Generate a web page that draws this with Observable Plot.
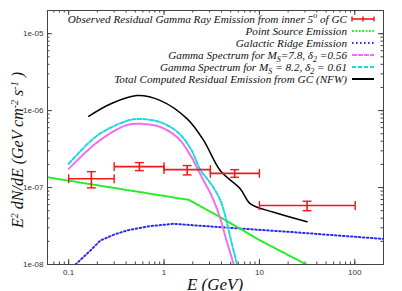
<!DOCTYPE html>
<html><head><meta charset="utf-8">
<script src="https://cdn.jsdelivr.net/npm/d3@7"></script>
<script src="https://cdn.jsdelivr.net/npm/@observablehq/plot@0.6"></script>
<style>body{margin:0;background:#fff} svg{display:block}</style>
</head><body><div id="chart"></div>
<script>
// Observed residual emission (with energy bins and flux errors)
const obsE   = [0.173, 0.552, 1.75, 5.5, 31.6];
const obsELo = [0.1, 0.3, 1.0, 3.06, 10];
const obsEHi = [0.3, 1.0, 3.06, 10, 101];
const obsF   = [1.30e-7, 1.87e-7, 1.71e-7, 1.53e-7, 5.84e-8];
const obsFLo = [0.99e-7, 1.66e-7, 1.46e-7, 1.36e-7, 5.0e-8];
const obsFHi = [1.61e-7, 2.11e-7, 1.93e-7, 1.71e-7, 6.64e-8];

// Point source emission
const psE = [0.06, 0.297, 1.82, 3.9, 10.2, 31.1];
const psF = [1.36e-7, 9.9e-8, 6.92e-8, 4.11e-8, 2.05e-8, 1.0e-8];

// Galactic ridge emission
const grE = [0.118, 0.169, 0.215, 0.3, 0.41, 0.7, 1.26, 3.06, 22.9, 200];
const grF = [1.0e-8, 1.52e-8, 2.05e-8, 2.45e-8, 2.77e-8, 3.15e-8, 3.38e-8, 3.12e-8, 2.63e-8, 2.15e-8];

// Gamma spectrum Ms=7.8, d2=0.56
const g1E = [0.1, 0.199, 0.394, 0.55, 0.92, 1.4, 1.9, 2.3, 2.6, 3.08, 3.74, 4.5, 5.38];
const g1F = [1.75e-7, 3.87e-7, 6.4e-7, 6.75e-7, 6.1e-7, 4.4e-7, 2.6e-7, 1.65e-7, 1.23e-7, 8.3e-8, 4.6e-8, 2.1e-8, 1.0e-8];

// Gamma spectrum Ms=8.2, d2=0.61
const g2E = [0.1, 0.199, 0.394, 0.53, 0.92, 1.4, 1.9, 2.4, 2.9, 3.3, 3.9, 4.4, 4.97, 5.84];
const g2F = [2.03e-7, 4.73e-7, 7.25e-7, 7.8e-7, 7.05e-7, 5.2e-7, 3.2e-7, 1.71e-7, 1.25e-7, 1.0e-7, 6.8e-8, 4.2e-8, 2.2e-8, 1.0e-8];

// Total computed residual emission (NFW)
const totE = [0.162, 0.274, 0.522, 0.92, 1.75, 2.61, 3.9, 6.32, 8.05, 14.1, 31.6];
const totF = [8.43e-7, 1.22e-6, 1.57e-6, 1.35e-6, 7.8e-7, 4.07e-7, 1.65e-7, 9.6e-8, 6.14e-8, 4.78e-8, 3.6e-8];

// Axes
const xTicks = [0.1, 1, 10, 100];
const xTickLabels = ["0.1", "1", "10", "100"];
const yTicks = [1e-8, 1e-7, 1e-6, 1e-5];
const yTickLabels = ["1e-08", "1e-07", "1e-06", "1e-05"];
const xDomain = [0.06, 200];
const yDomain = [1e-8, 2e-5];

const legendLabels = [
  [["Observed Residual Gamma Ray Emission from inner 5"], ["o", "sup"], [" of GC"]],
  [["Point Source Emission"]],
  [["Galactic Ridge Emission"]],
  [["Gamma Spectrum for M"], ["S", "sub"], ["=7.8, δ"], ["2", "sub"], [" =0.56"]],
  [["Gamma Spectrum for M"], ["S", "sub"], [" = 8.2, δ"], ["2", "sub"], [" = 0.61"]],
  [["Total Computed Residual Emission from GC (NFW)"]]
];

const zip = (E, F) => E.map((e, i) => ({e, f: F[i]}));
const obs = obsE.map((e, i) => ({e, lo: obsELo[i], hi: obsEHi[i], f: obsF[i], flo: obsFLo[i], fhi: obsFHi[i]}));
const xTickData = xTicks.map((v, i) => ({v, label: xTickLabels[i]}));
const yTickData = yTicks.map((v, i) => ({v, label: yTickLabels[i]}));

const W = 402, H = 291, mL = 47, mR = 19, mT = 10, mB = 27;
const pH = H - mT - mB, pW = W - mL - mR;

function minorTicks(lo, hi) {
  const out = [];
  for (let p = -9; p <= 3; p++) for (let k = 1; k <= 9; k++) {
    const v = k * Math.pow(10, p);
    if (v >= lo * 0.999 && v <= hi * 1.001) out.push(v);
  }
  return out;
}
const xMinor = minorTicks(...xDomain);
const yMinor = minorTicks(...yDomain);

const red = "#f01818", green = "#22ee22", blue = "#2a2aff", mag = "#ee70ee", cyan = "#1ed8e0";
const greenDash = "1.8,1.6", blueDash = "1.5,2.5", magDash = "5,1", cyanDash = "4,2";

const hCap = {draw(ctx, size) { const r = Math.sqrt(size); ctx.moveTo(-r, 0); ctx.lineTo(r, 0); }};
const vCap = {draw(ctx, size) { const r = Math.sqrt(size); ctx.moveTo(0, -r); ctx.lineTo(0, r); }};

const svg = Plot.plot({
  width: W, height: H,
  marginLeft: mL, marginRight: mR, marginTop: mT, marginBottom: mB,
  style: {fontFamily: "Liberation Sans, Arial, sans-serif", fontSize: "8px", color: "#333", background: "#fff"},
  x: {type: "log", domain: xDomain, label: null, axis: null},
  y: {type: "log", domain: yDomain, label: null, axis: null},
  marks: [
    // ticks (inside, mirrored)
    Plot.tickX(xMinor, {x: d => d, insetTop: pH - 2.5, stroke: "#444"}),
    Plot.tickX(xMinor, {x: d => d, insetBottom: pH - 2.5, stroke: "#444"}),
    Plot.tickX(xTicks, {x: d => d, insetTop: pH - 5, stroke: "#444"}),
    Plot.tickX(xTicks, {x: d => d, insetBottom: pH - 5, stroke: "#444"}),
    Plot.tickY(yMinor, {y: d => d, insetRight: pW - 2.5, stroke: "#444"}),
    Plot.tickY(yMinor, {y: d => d, insetLeft: pW - 2.5, stroke: "#444"}),
    Plot.tickY(yTicks, {y: d => d, insetRight: pW - 5, stroke: "#444"}),
    Plot.tickY(yTicks, {y: d => d, insetLeft: pW - 5, stroke: "#444"}),
    // tick labels
    Plot.text(xTickData, {x: "v", text: "label", frameAnchor: "bottom", dy: 10, fill: "#333", fontSize: 8}),
    Plot.text(yTickData, {y: "v", text: "label", frameAnchor: "left", dx: -4, textAnchor: "end", fill: "#333", fontSize: 8}),
    // curves
    Plot.line(zip(grE, grF), {x: "e", y: "f", stroke: blue, strokeWidth: 2, strokeDasharray: blueDash, clip: true}),
    Plot.line(zip(psE, psF), {x: "e", y: "f", stroke: green, strokeWidth: 2, strokeDasharray: greenDash, clip: true}),
    Plot.line(zip(g1E, g1F), {x: "e", y: "f", stroke: mag, strokeWidth: 2, strokeDasharray: magDash, curve: "catmull-rom", clip: true}),
    Plot.line(zip(g2E, g2F), {x: "e", y: "f", stroke: cyan, strokeWidth: 2, strokeDasharray: cyanDash, curve: "catmull-rom", clip: true}),
    Plot.line(zip(totE, totF), {x: "e", y: "f", stroke: "#000", strokeWidth: 1.5, curve: "catmull-rom", clip: true}),
    // observed data with error bars
    Plot.link(obs, {x1: "lo", x2: "hi", y1: "f", y2: "f", stroke: red, strokeWidth: 1.6}),
    Plot.link(obs, {x1: "e", x2: "e", y1: "flo", y2: "fhi", stroke: red, strokeWidth: 1.6}),
    Plot.dot(obs, {x: "lo", y: "f", symbol: vCap, r: 2.5, stroke: red, strokeWidth: 1.4}),
    Plot.dot(obs, {x: "hi", y: "f", symbol: vCap, r: 2.5, stroke: red, strokeWidth: 1.4}),
    Plot.dot(obs, {x: "e", y: "flo", symbol: hCap, r: 2.5, stroke: red, strokeWidth: 1.4}),
    Plot.dot(obs, {x: "e", y: "fhi", symbol: hCap, r: 2.5, stroke: red, strokeWidth: 1.4}),
    Plot.frame({stroke: "#444", strokeWidth: 1})
  ]
});

const s = d3.select(svg);
function rich(textSel, parts, small) {
  let shift = 0;
  parts.forEach(([t, kind]) => {
    const ts = textSel.append("tspan").text(t);
    let target = kind === "sub" ? 3 : kind === "sup" ? -5 : 0;
    if (target !== shift) ts.attr("dy", target - shift);
    shift = target;
    if (kind) ts.attr("font-size", small);
  });
}

// legend
const lg = s.append("g").attr("font-family", "Liberation Serif, Times New Roman, serif")
  .attr("font-style", "italic").attr("font-size", 11.2).attr("fill", "#111");
const legStyles = [
  {stroke: red, dash: null, w: 1.6},
  {stroke: green, dash: greenDash, w: 2},
  {stroke: blue, dash: blueDash, w: 2},
  {stroke: mag, dash: magDash, w: 2},
  {stroke: cyan, dash: cyanDash, w: 2},
  {stroke: "#000", dash: null, w: 2}
];
legendLabels.forEach((parts, i) => {
  const y = 19 + 12 * i;
  const t = lg.append("text").attr("x", 347).attr("y", y + 3.5).attr("text-anchor", "end");
  rich(t, parts, 8);
  const st = legStyles[i];
  const l = lg.append("line").attr("x1", 352).attr("x2", 374).attr("y1", y).attr("y2", y)
    .attr("stroke", st.stroke).attr("stroke-width", st.w);
  if (st.dash) l.attr("stroke-dasharray", st.dash);
  if (i === 0) {
    [352, 363, 374].forEach(x => lg.append("line").attr("x1", x).attr("x2", x).attr("y1", y - 2.5).attr("y2", y + 2.5)
      .attr("stroke", red).attr("stroke-width", 1.4));
  }
});

// axis titles
const lab = s.append("g").attr("font-family", "Liberation Serif, Times New Roman, serif")
  .attr("font-style", "italic").attr("fill", "#111");
lab.append("text").attr("x", mL + pW / 2).attr("y", 290).attr("text-anchor", "middle")
  .attr("font-size", 17).text("E (GeV)");
const yl = lab.append("text").attr("transform", "rotate(-90)").attr("x", -150).attr("y", 23)
  .attr("text-anchor", "middle").attr("font-size", 16);
rich(yl, [["E"], ["2", "sup"], [" dN/dE (GeV cm"], ["-2", "sup"], [" s"], ["-1", "sup"], [" )"]], 10);

document.getElementById("chart").appendChild(svg);
</script>
</body></html>
